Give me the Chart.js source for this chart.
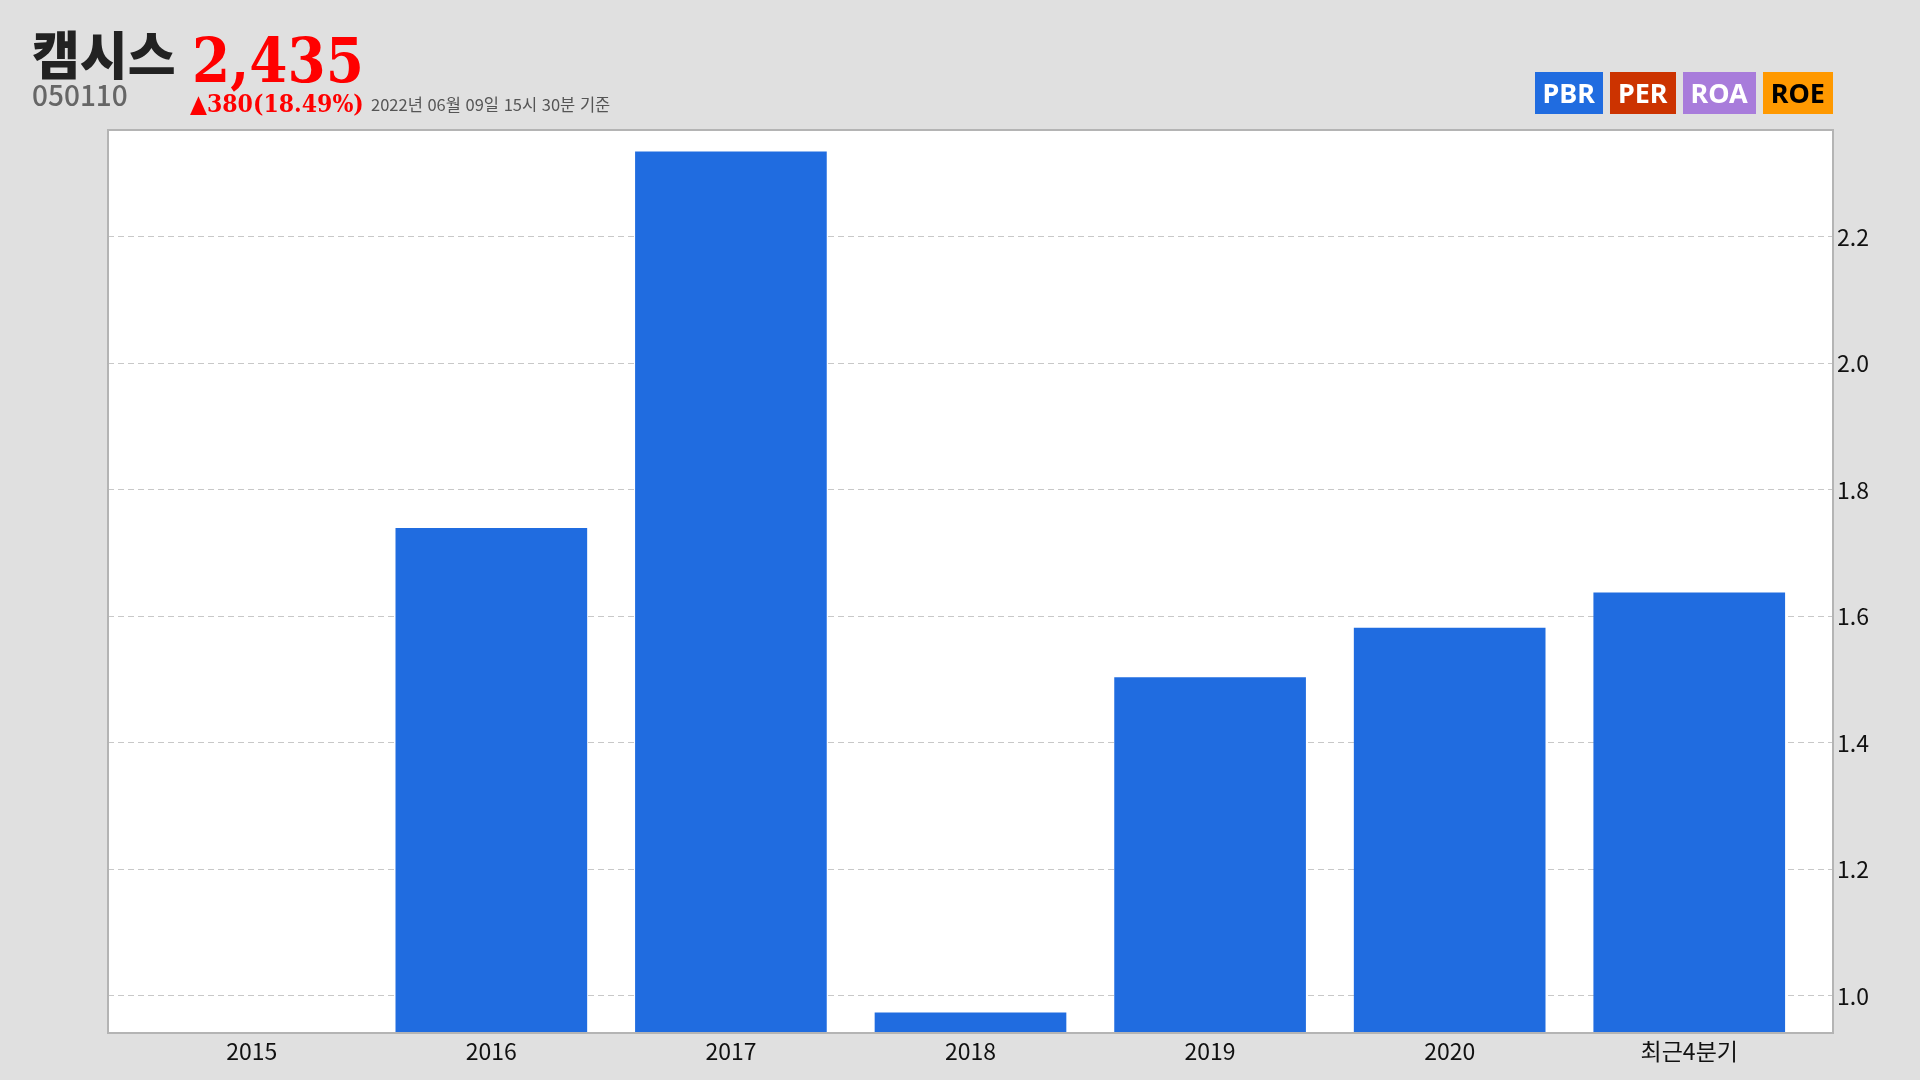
<!DOCTYPE html>
<html lang="ko">
<head>
<meta charset="utf-8">
<title>캠시스 PBR</title>
<script src="https://cdn.jsdelivr.net/npm/chart.js@4.4.1/dist/chart.umd.min.js"></script>
<style>
  body { margin: 0; background: #e0e0e0; width: 1920px; height: 1080px; overflow: hidden; position: relative; font-family: 'Noto Sans CJK KR', 'Noto Sans', sans-serif; }
  #chart { position: absolute; left: 0; top: 0; }
  .abs { position: absolute; white-space: nowrap; line-height: 1; }
  #name { left: 32px; top: 27px; font-size: 52px; font-weight: 900; color: #222; }
  #price { left: 192px; top: 30px; font-size: 61px; font-weight: bold; color: #ff0000; font-family: 'DejaVu Serif Condensed', 'DejaVu Serif', serif; font-stretch: condensed; }
  #code { left: 32px; top: 80px; font-size: 28px; font-weight: 500; color: #666; }
  #change { left: 190px; top: 92px; font-size: 24.5px; font-weight: bold; color: #ff0000; font-family: 'DejaVu Serif Condensed', 'DejaVu Serif', serif; font-stretch: condensed; }
  #stamp { left: 371px; top: 96px; font-size: 16.5px; color: #555; }
  #legend { position: absolute; right: 87px; top: 72px; display: flex; gap: 7px; }
  #legend span { display: block; height: 42px; line-height: 42px; padding: 0 8px; font-family: 'Noto Sans', sans-serif; font-weight: bold; font-size: 27px; color: #fff; }
</style>
</head>
<body>
<canvas id="chart" width="1920" height="1080"></canvas>
<div class="abs" id="name">캠시스</div>
<div class="abs" id="price">2,435</div>
<div class="abs" id="code">050110</div>
<div class="abs" id="change">▲380(18.49%)</div>
<div class="abs" id="stamp">2022년 06월 09일 15시 30분 기준</div>
<div id="legend">
  <span style="background:#206ce0">PBR</span>
  <span style="background:#cc3300">PER</span>
  <span style="background:#a87cdb">ROA</span>
  <span style="background:#ff9900;color:#000">ROE</span>
</div>
<script>
// chart data
let categories = ['2015', '2016', '2017', '2018', '2019', '2020', '최근4분기'];
let pbrValues = [null, 1.74, 2.335, 0.974, 1.504, 1.582, 1.638];
let yTickValues = [1.0, 1.2, 1.4, 1.6, 1.8, 2.0, 2.2];
let yMin = 0.9415;
let yMax = 2.369;

// white plot area + grey frame
let plotFrame = {
  id: 'plotFrame',
  beforeDraw(chart) {
    let a = chart.chartArea;
    let ctx = chart.ctx;
    ctx.save();
    ctx.fillStyle = '#ffffff';
    ctx.fillRect(a.left, a.top, a.right - a.left, a.bottom - a.top);
    ctx.restore();
  },
  afterDraw(chart) {
    let a = chart.chartArea;
    let ctx = chart.ctx;
    ctx.save();
    ctx.strokeStyle = '#b4b4b4';
    ctx.lineWidth = 2;
    ctx.strokeRect(a.left, a.top, a.right - a.left, a.bottom - a.top);
    ctx.restore();
  }
};

let ctx = document.getElementById('chart').getContext('2d');
let myChart = new Chart(ctx, {
  type: 'bar',
  data: {
    datasets: [{
      label: 'PBR',
      data: pbrValues.map((v, i) => ({ x: i, y: v })),
      backgroundColor: '#206ce0',
      borderWidth: 0,
      barPercentage: 0.8,
      categoryPercentage: 1
    }]
  },
  options: {
    responsive: false,
    animation: false,
    layout: { padding: { left: 108, top: 130, right: 0, bottom: 0 } },
    plugins: { legend: { display: false }, tooltip: { enabled: false } },
    scales: {
      x: {
        type: 'linear',
        offset: false,
        min: -0.6,
        max: 6.6,
        afterFit(scale) { scale.height = 47; },
        afterBuildTicks(scale) { scale.ticks = categories.map((c, i) => ({ value: i })); },
        grid: { display: false, drawTicks: false, offset: false },
        border: { display: false },
        ticks: {
          padding: 4,
          color: '#111',
          font: { family: "'Noto Sans CJK KR'", size: 23 },
          maxRotation: 0,
          autoSkip: false,
          callback: (v) => categories[v]
        }
      },
      y: {
        position: 'right',
        min: yMin,
        max: yMax,
        afterFit(scale) { scale.width = 87; },
        afterBuildTicks(scale) { scale.ticks = yTickValues.map(v => ({ value: v })); },
        grid: { color: '#c8c8c8', lineWidth: 1, drawTicks: false, tickBorderDash: [6, 4] },
        border: { display: false, dash: [6, 4] },
        ticks: {
          padding: 4,
          color: '#111',
          font: { family: "'Noto Sans CJK KR'", size: 23 },
          callback: (v) => v.toFixed(1)
        }
      }
    }
  },
  plugins: [plotFrame]
});
</script>
</body>
</html>
